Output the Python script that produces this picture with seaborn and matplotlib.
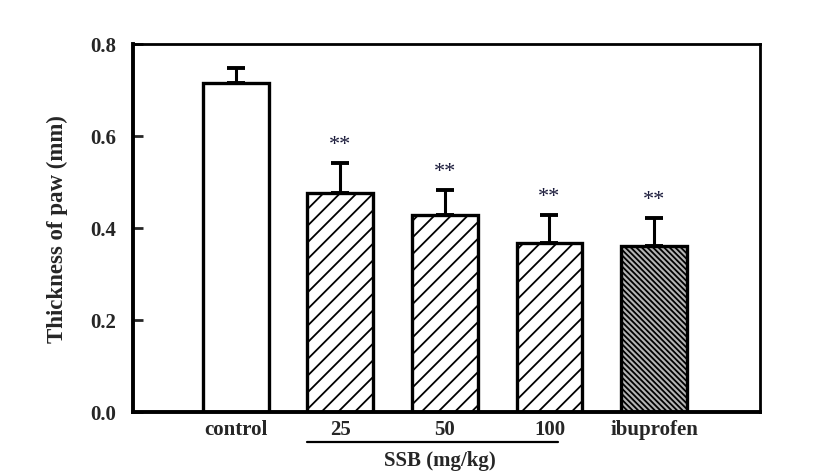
import matplotlib
matplotlib.use("Agg")
import matplotlib.pyplot as plt
import numpy as np
import pandas as pd
import seaborn as sns

groups = ["control", "25", "50", "100", "ibuprofen"]
thickness = [0.715, 0.476, 0.429, 0.367, 0.361]
sem = [0.033, 0.065, 0.054, 0.061, 0.061]
stars = ["", "**", "**", "**", "**"]
hatches = ["", "//", "//", "//", "\\\\\\\\\\\\"]
fills = ["white", "white", "white", "white", "#b4b4b4"]

sns.set_theme(style="white")
plt.rcParams["font.family"] = ["Liberation Serif", "DejaVu Serif"]
plt.rcParams["font.weight"] = "bold"
plt.rcParams["hatch.linewidth"] = 1.3

df = pd.DataFrame({"group": groups, "thickness": thickness})

fig = plt.figure(figsize=(8.27, 4.77), dpi=100)
ax = fig.add_axes([0.1608, 0.1342, 0.758, 0.7715])

sns.barplot(data=df, x="group", y="thickness", order=groups, width=0.63,
            errorbar=None, color="white", ax=ax, zorder=2)

for bar, h, c in zip(ax.patches, hatches, fills):
    bar.set_facecolor(c)
    bar.set_edgecolor("black")
    bar.set_linewidth(2.4)
    bar.set_hatch(h)

x = np.arange(len(groups))
ax.errorbar(x, thickness, yerr=[np.zeros(len(sem)), sem], fmt="none",
            ecolor="black", elinewidth=2.2, capsize=6.5, capthick=2.8, zorder=1)

for xi, m, s, st in zip(x, thickness, sem, stars):
    if st:
        ax.text(xi, m + s + 0.04, st, ha="center", va="center", fontsize=16,
                color="#1a1a3a", fontweight="normal")

ax.set_xlim(-0.98, 5.01)
ax.set_ylim(0, 0.8)
ax.set_yticks([0.0, 0.2, 0.4, 0.6, 0.8])
ax.set_yticklabels(["0.0", "0.2", "0.4", "0.6", "0.8"], fontsize=15, fontweight="bold")
ax.set_xticks(x)
ax.set_xticklabels(groups, fontsize=15, fontweight="bold")
ax.tick_params(axis="y", direction="in", length=7, width=2, left=True, pad=12)
ax.tick_params(axis="x", length=0, pad=5)
ax.set_xlabel("")
ax.set_ylabel("Thickness of paw (mm)", fontsize=16.5, fontweight="bold", labelpad=16)

for side in ["left", "bottom"]:
    ax.spines[side].set_linewidth(2.8)
for side in ["top", "right"]:
    ax.spines[side].set_linewidth(2.0)
for sp in ax.spines.values():
    sp.set_color("black")

# bracket for SSB doses
fig.add_artist(plt.Line2D([307 / 827, 558 / 827], [1 - 443 / 477, 1 - 443 / 477],
                          color="black", linewidth=1.6))
fig.text(440 / 827, 1 - 461 / 477, "SSB (mg/kg)", ha="center", va="center",
         fontsize=15, fontweight="bold")

plt.savefig("out.png", dpi=100)
